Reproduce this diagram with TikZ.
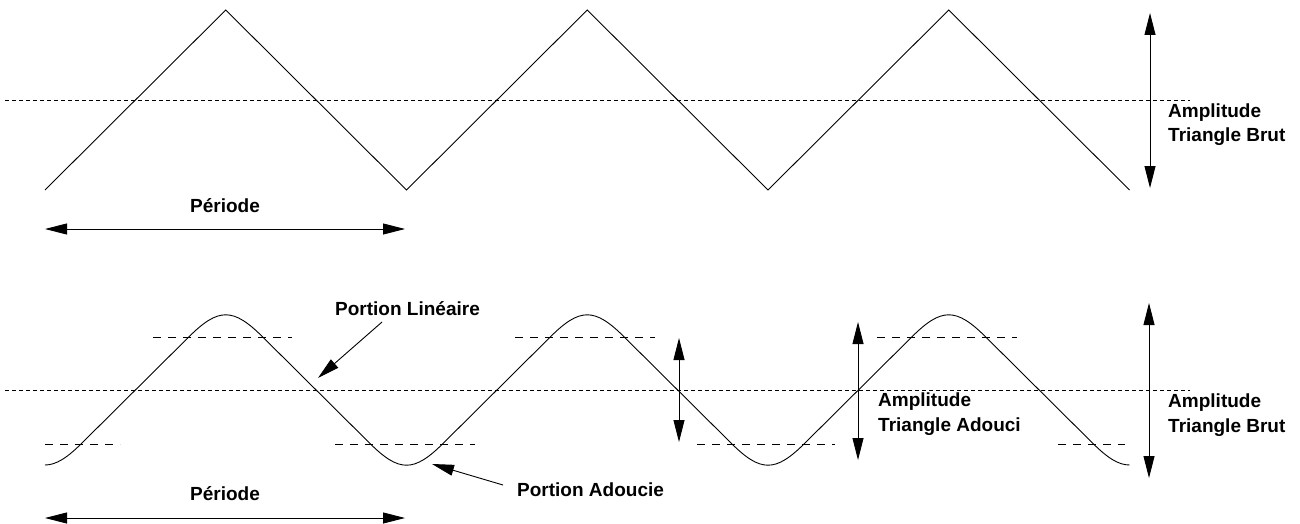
\documentclass[tikz,border=0pt]{standalone}
\usepackage{fontspec}
\setmainfont{Liberation Sans}
\usetikzlibrary{arrows.meta}
\begin{document}
\begin{tikzpicture}[x=1pt,y=-1pt,
  wave/.style={line width=0.9pt, line join=miter},
  midline/.style={line width=0.8pt, dash pattern=on 4pt off 3pt},
  lvl/.style={line width=0.8pt, dash pattern=on 8pt off 7pt},
  dimarrow/.style={line width=0.9pt, {Triangle[length=22pt,width=11pt]}-{Triangle[length=22pt,width=11pt]}},
  callout/.style={line width=0.9pt, -{Triangle[length=22pt,width=11pt]}},
  lbl/.style={font=\fontsize{19}{24.5}\selectfont\bfseries, inner sep=0pt, align=left, anchor=base west}]
\useasboundingbox (0,0) rectangle (1300,524);
% ---------- top: raw triangle ----------
\draw[wave] (45,190) -- (225.75,10) -- (406.5,190) -- (587.25,10) -- (768,190) -- (948.75,10) -- (1129.5,190);
\coordinate (m1a) at (5,100); \coordinate (m1b) at (1190,100);
\draw[midline] (m1a) -- (m1b);
\coordinate (ta1) at (1150,13); \coordinate (ta2) at (1150,188);
\draw[dimarrow] (ta1) -- (ta2);
\node[lbl] (tlab) at (1168,142) {Amplitude\\Triangle Brut};
\node[lbl] (tper) at (190,212) {Période};
\coordinate (tp1) at (45,229); \coordinate (tp2) at (405,229);
\draw[dimarrow] (tp1) -- (tp2);
% ---------- bottom: smoothed triangle ----------
\draw[wave] (45,465) .. controls (56.1,465) and (67.2,457.8) .. (82,443)
 -- (188.75,337) .. controls (218.35,307.4) and (233.15,307.4) .. (262.75,337)
 -- (369.5,443) .. controls (399.1,472.6) and (413.9,472.6) .. (443.5,443)
 -- (550.25,337) .. controls (579.85,307.4) and (594.65,307.4) .. (624.25,337)
 -- (731,443) .. controls (760.6,472.6) and (775.4,472.6) .. (805,443)
 -- (911.75,337) .. controls (941.35,307.4) and (956.15,307.4) .. (985.75,337)
 -- (1092.5,443) .. controls (1107.3,457.8) and (1118.4,465) .. (1129.5,465);
\coordinate (m2a) at (5,390); \coordinate (m2b) at (1190,390);
\draw[midline] (m2a) -- (m2b);
% level dashes
\draw[lvl] (153,337) -- (292,337);
\draw[lvl] (515,337) -- (655,337);
\draw[lvl] (877,337) -- (1017,337);
\draw[lvl] (45,444) -- (120,444);
\draw[lvl] (335,444) -- (475,444);
\draw[lvl] (697,444) -- (835,444);
\draw[lvl] (1058,444) -- (1125,444);
% amplitude arrows
\coordinate (sa1) at (679,338); \coordinate (sa2) at (679,442);
\draw[dimarrow] (sa1) -- (sa2);
\coordinate (la1) at (858,322); \coordinate (la2) at (858,460);
\draw[dimarrow] (la1) -- (la2);
\node[lbl] (blab) at (878,431) {Amplitude\\Triangle Adouci};
\coordinate (ra1) at (1149,303); \coordinate (ra2) at (1149,478);
\draw[dimarrow] (ra1) -- (ra2);
\node[lbl] (rlab) at (1168,432) {Amplitude\\Triangle Brut};
% callouts
\node[lbl] (plin) at (335,315) {Portion Linéaire};
\coordinate (plt) at (318,378);
\draw[callout] (382,322) -- (plt);
\node[lbl] (pado) at (517,496) {Portion Adoucie};
\coordinate (pat) at (432,464);
\draw[callout] (503,485) -- (pat);
% period
\node[lbl] (bper) at (190,500) {Période};
\coordinate (bp1) at (45,518); \coordinate (bp2) at (405,518);
\draw[dimarrow] (bp1) -- (bp2);
\end{tikzpicture}
\end{document}
